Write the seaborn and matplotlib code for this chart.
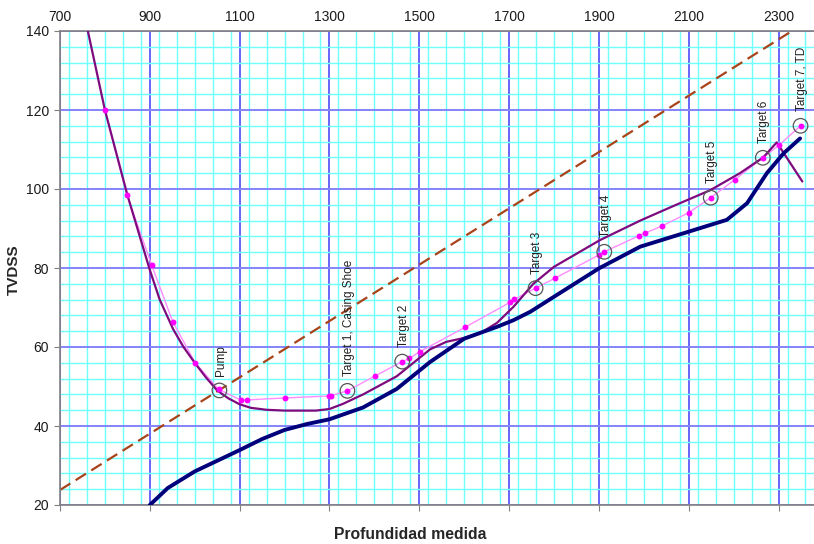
import numpy as np
import pandas as pd
import matplotlib
matplotlib.use("Agg")
import matplotlib.pyplot as plt
from matplotlib.ticker import MultipleLocator, FixedLocator
import seaborn as sns

# ---------------- data ----------------
# navy well path
navy_md = [900, 940, 1000, 1050, 1100, 1150, 1200, 1250, 1300, 1375, 1450, 1524,
           1600, 1673, 1710, 1747, 1790, 1900, 1992, 2100, 2185, 2230, 2274, 2311, 2348]
navy_tvd = [20, 24.3, 28.5, 31.2, 33.9, 36.7, 39.0, 40.5, 41.7, 44.7, 49.4, 56.2,
            62.1, 65.1, 66.8, 68.9, 72.0, 79.9, 85.4, 89.2, 92.2, 96.4, 104.0, 109.0, 112.8]

# purple well path
purple_md = [762, 800, 850, 900, 922, 952, 975, 1000, 1025, 1050, 1075, 1100, 1125,
             1160, 1200, 1270, 1300, 1330, 1375, 1450, 1524, 1560, 1600, 1640, 1673,
             1710, 1754, 1800, 1903, 1992, 2066, 2148, 2214, 2266, 2296, 2353]
purple_tvd = [140, 120, 98.5, 79.5, 72, 64.5, 60.0, 56.0, 52.3, 49.0, 47.0, 45.5, 44.6,
              44.1, 43.9, 43.9, 44.3, 45.6, 48.0, 52.6, 59.4, 61.3, 62.3, 63.8, 66.1,
              70.2, 76.0, 80.3, 87.1, 92.0, 95.7, 99.7, 104.0, 108.0, 111.8, 101.9]

# magenta survey points
pink_md = [800, 849, 904, 951, 1001, 1053, 1102, 1116, 1201, 1299, 1304, 1340, 1402,
           1462, 1478, 1501, 1602, 1702, 1712, 1759, 1802, 1900, 1912, 1990, 2002,
           2040, 2100, 2149, 2203, 2265, 2301, 2349]
pink_tvd = [120, 98.5, 80.8, 66.4, 56.0, 49.3, 46.6, 46.6, 47.1, 47.6, 47.7, 48.9, 52.7,
            56.3, 57.1, 58.8, 65.0, 71.3, 72.1, 74.9, 77.4, 83.3, 84.1, 88.2, 88.8,
            90.6, 94.0, 97.8, 102.4, 107.9, 111.1, 116.0]

# dashed reference line
dash_md = [700, 2400]
dash_tvd = [23.8, 145.0]

# targets
target_names = ["Pump", "Target 1, Casing Shoe", "Target 2", "Target 3", "Target 4",
                "Target 5", "Target 6", "Target 7, TD"]
target_md = [1055, 1340, 1462, 1759, 1912, 2149, 2265, 2349]
target_tvd = [49.0, 48.9, 56.3, 74.9, 84.1, 97.8, 107.9, 116.0]

x_ticks = [700, 900, 1100, 1300, 1500, 1700, 1900, 2100, 2300]
y_ticks = [20, 40, 60, 80, 100, 120, 140]

# ---------------- plot ----------------
sns.set_style("white")
plt.rcParams['font.family'] = ['Liberation Sans', 'DejaVu Sans']

fig = plt.figure(figsize=(8.14, 5.44), dpi=100)
ax = fig.add_axes([60 / 814, 39 / 544, 754 / 814, 474 / 544])

ax.set_xlim(700, 2379)
ax.set_ylim(20, 140)

# grid
ax.xaxis.set_major_locator(FixedLocator(x_ticks))
ax.yaxis.set_major_locator(FixedLocator(y_ticks))
ax.xaxis.set_minor_locator(MultipleLocator(40))
ax.yaxis.set_minor_locator(MultipleLocator(4))
ax.set_axisbelow(True)
ax.grid(which='minor', color='#70FFFF', lw=1.0, zorder=0)
ax.xaxis.grid(True, which='major', color='#5A5AFA', lw=1.3, zorder=0)
ax.yaxis.grid(True, which='major', color='#8484FA', lw=1.4, zorder=0)

sns.lineplot(x=dash_md, y=dash_tvd, ax=ax, color='#A8431A', lw=1.6,
             sort=False, estimator=None, zorder=2)
ax.lines[-1].set_dashes([5.5, 2.8])

sns.lineplot(x=pink_md, y=pink_tvd, ax=ax, color='#FF8CFF', lw=1.0, sort=False,
             estimator=None, zorder=3)
sns.lineplot(x=purple_md, y=purple_tvd, ax=ax, color='#7E0A7E', lw=1.6, sort=False,
             estimator=None, zorder=4)
sns.lineplot(x=navy_md, y=navy_tvd, ax=ax, color='#00007A', lw=2.8, sort=False,
             estimator=None, zorder=5)
sns.scatterplot(x=pink_md, y=pink_tvd, ax=ax, color='#FF00FF', s=18, linewidth=0,
                zorder=6)
sns.scatterplot(x=target_md, y=target_tvd, ax=ax, facecolor='none', edgecolor='#555555',
                s=110, linewidth=0.9, zorder=7)

for name, mx, ty in zip(target_names, target_md, target_tvd):
    ax.annotate(name, (mx, ty), xytext=(1, 10.5), textcoords='offset points',
                rotation=90, ha='center', va='bottom', fontsize=8.5, color='#222222',
                zorder=8)

# axes styling
for side in ['left', 'top', 'bottom']:
    ax.spines[side].set_color('#808080')
    ax.spines[side].set_linewidth(1.2)
ax.spines['right'].set_visible(False)

ax.tick_params(axis='x', which='major', top=False, labeltop=True, bottom=True,
               labelbottom=False, length=4, color='#808080', labelsize=10,
               labelcolor='#1a1a1a', pad=1)
ax.tick_params(axis='y', which='major', left=True, length=4, color='#808080',
               labelsize=10, labelcolor='#1a1a1a', pad=4)
ax.tick_params(which='minor', length=0)

ax.set_xlabel("Profundidad medida", fontsize=11.3, fontweight='bold')
ax.set_ylabel("TVDSS", fontsize=11, fontweight='bold')
ax.xaxis.set_label_position('bottom')
ax.xaxis.set_label_coords(0.464, -0.046)
ax.yaxis.set_label_coords(-0.052, 0.496)

fig.savefig("out.png", dpi=100)
